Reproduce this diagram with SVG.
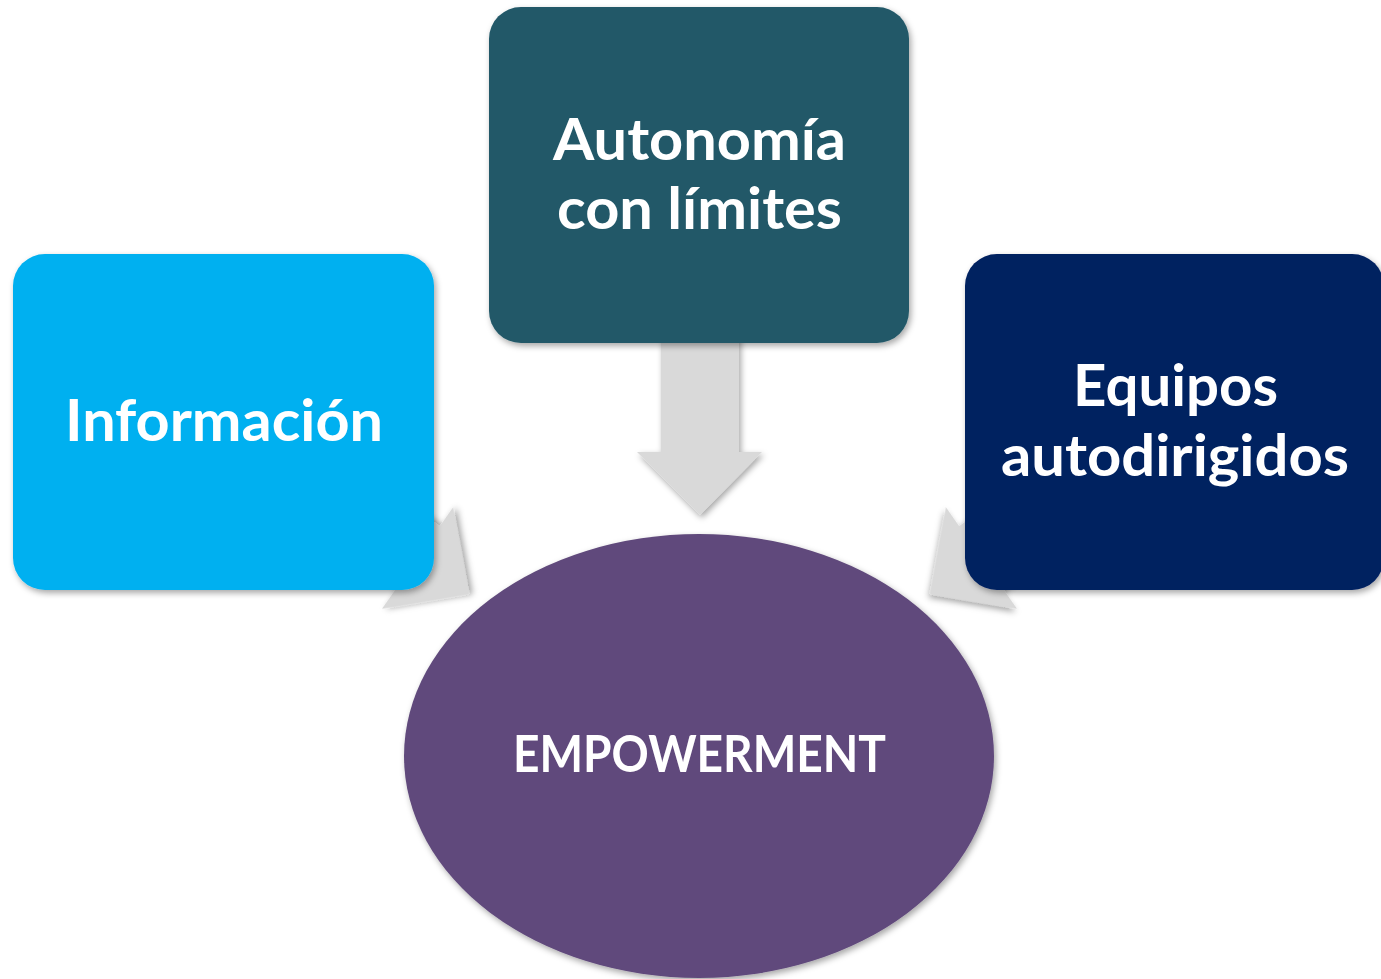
<svg xmlns="http://www.w3.org/2000/svg" width="1381" height="979" viewBox="0 0 1381 979">
<defs>
<filter id="sh" x="-20%" y="-20%" width="140%" height="140%">
<feDropShadow dx="2" dy="3" stdDeviation="3" flood-color="#000" flood-opacity="0.35"/>
</filter>
<style>
.arrow{fill:#D9D9D9;filter:url(#sh)}
.lbl{font-family:Lato,"Open Sans","Liberation Sans",sans-serif;font-weight:bold;fill:#fff;text-anchor:middle}
</style>
</defs>
<rect width="1381" height="979" fill="#fff"/>
<g id="connectors">
<polygon class="arrow" points="661,300 739,300 739,452 762,452 700,515 637,452 661,452"/>
<g transform="translate(417.5,558) rotate(-55)">
<polygon class="arrow" points="-39,-200 39,-200 39,0 62,0 0,63 -62,0 -39,0"/>
</g>
<g transform="translate(981.5,558) rotate(55)">
<polygon class="arrow" points="-39,-200 39,-200 39,0 62,0 0,63 -62,0 -39,0"/>
</g>
</g>
<g id="node-empowerment">
<ellipse cx="699" cy="756" rx="295" ry="222" fill="#604A7B" filter="url(#sh)"/>
<text class="lbl" x="699.5" y="772" font-size="51" textLength="373" lengthAdjust="spacingAndGlyphs">EMPOWERMENT</text>
</g>
<g id="node-informacion">
<rect x="13" y="254" width="421" height="336" rx="32" fill="#00B0F0" filter="url(#sh)"/>
<text class="lbl" x="224" y="441" font-size="58" textLength="318" lengthAdjust="spacingAndGlyphs">Información</text>
</g>
<g id="node-autonomia">
<rect x="489" y="7" width="420" height="336" rx="32" fill="#225868" filter="url(#sh)"/>
<text class="lbl" x="699.5" y="160" font-size="58" textLength="293" lengthAdjust="spacingAndGlyphs">Autonomía</text>
<text class="lbl" x="699.5" y="229" font-size="58" textLength="285" lengthAdjust="spacingAndGlyphs">con límites</text>
</g>
<g id="node-equipos">
<rect x="965" y="254" width="419" height="336" rx="32" fill="#002060" filter="url(#sh)"/>
<text class="lbl" x="1175.5" y="406" font-size="58" textLength="205" lengthAdjust="spacingAndGlyphs">Equipos</text>
<text class="lbl" x="1175" y="476" font-size="58" textLength="348" lengthAdjust="spacingAndGlyphs">autodirigidos</text>
</g>
</svg>
